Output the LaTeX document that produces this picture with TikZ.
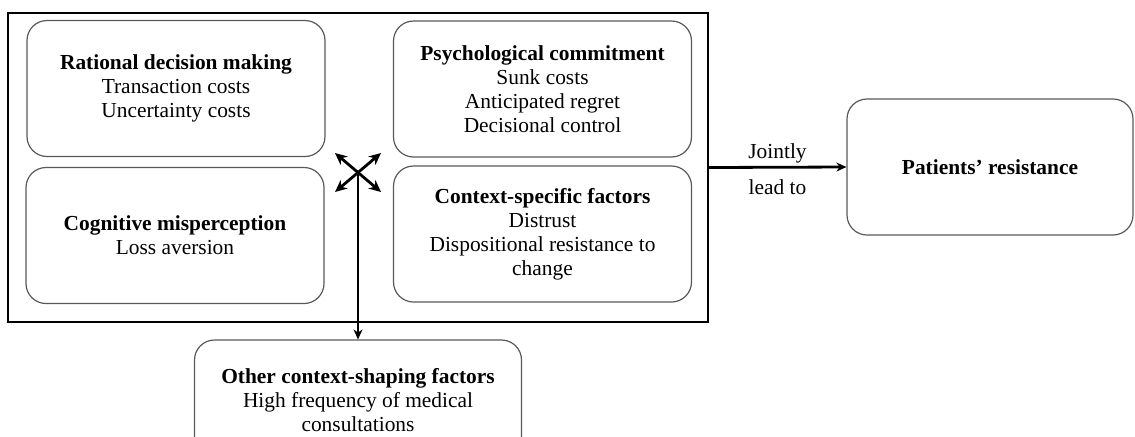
\documentclass[tikz,border=0pt]{standalone}
\usepackage{fontspec}
\setmainfont{Liberation Serif}
\usepackage{tikz}
\usetikzlibrary{positioning,arrows.meta,calc}

\begin{document}
\begin{tikzpicture}[
  x=0.5pt, y=-0.5pt,
  font=\fontsize{10.7}{12}\selectfont, >={Stealth[length=5pt,width=4.5pt]},
  factorBox/.style={draw=black!65, line width=0.6pt, rounded corners=10pt,
               align=center, minimum width=149pt, minimum height=68pt},
  frameBox/.style={draw, line width=0.6pt, minimum width=350pt,
               minimum height=154.5pt},
  arr/.style={->, line width=1.4pt},
  twoArr/.style={<->, line width=1.4pt, >={Stealth[length=6pt,width=5.5pt]}},
]
\useasboundingbox (0,0) rectangle (1135,436);

% the set of factors
\node[frameBox] (frame) at (358,167.5) {};
\node[factorBox] (rational) at (176,88.5)
  {\textbf{Rational decision making}\\Transaction costs\\Uncertainty costs};
\node[factorBox] (cognitive) at (175,235.5)
  {\textbf{Cognitive misperception}\\Loss aversion};
\node[factorBox] (psych) at (542.5,89)
  {\textbf{Psychological commitment}\\Sunk costs\\Anticipated regret\\Decisional control};
\node[factorBox] (context) at (542.5,234)
  {\textbf{Context-specific factors}\\Distrust\\Dispositional resistance to\\change};

% outcome and shaping factors
\node[factorBox, minimum width=143pt] (resist) at (990,167) {\textbf{Patients' resistance}};
\node[factorBox, minimum width=163.5pt, minimum height=60pt] (other) at (358,400)
  {\textbf{Other context-shaping factors}\\High frequency of medical\\consultations};

% interaction cross
\coordinate (cross) at (358,172);
\coordinate (tl) at (335,153);
\coordinate (tr) at (381,153);
\coordinate (bl) at (335,192);
\coordinate (br) at (381,192);
\draw[twoArr] (tl) -- (br);
\draw[twoArr] (tr) -- (bl);
\draw[->, line width=1.2pt] (cross) -- (other.north);

\draw[arr] (frame.east) -- node[above=-2pt]{Jointly} node[below=2pt]{lead to} (resist.west);
\end{tikzpicture}
\end{document}
